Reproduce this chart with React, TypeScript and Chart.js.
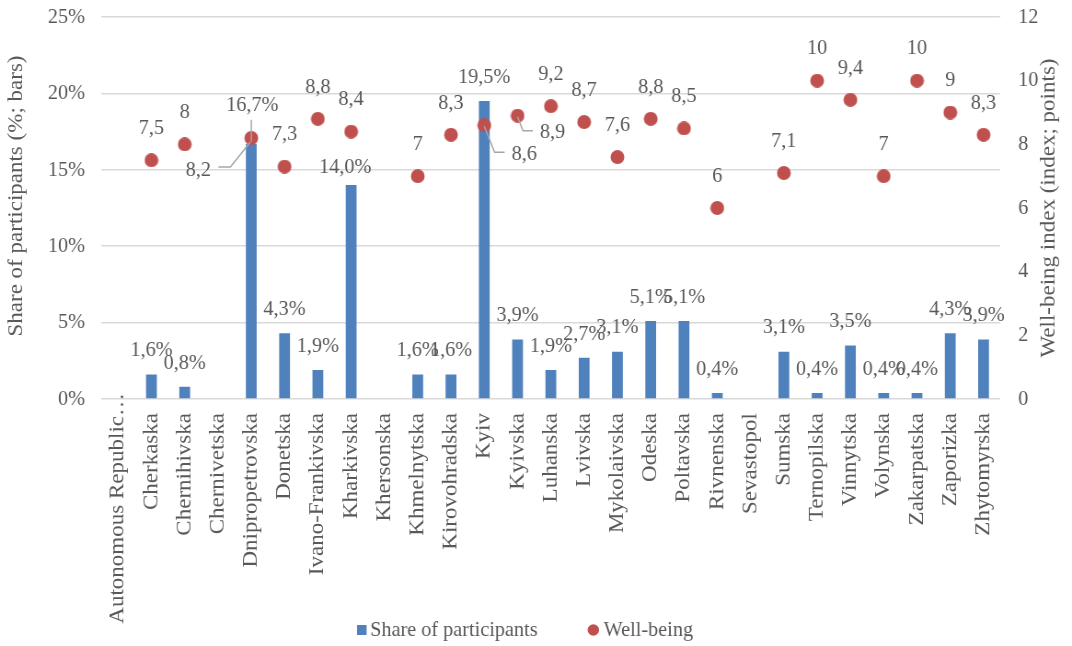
import React, { useEffect, useRef } from 'react';
import { Chart, registerables } from 'chart.js';

Chart.register(...registerables);

// ---------- data ----------
const regions = [
  'Autonomous Republic…', 'Cherkaska', 'Chernihivska', 'Chernivetska', 'Dnipropetrovska',
  'Donetska', 'Ivano-Frankivska', 'Kharkivska', 'Khersonska', 'Khmelnytska',
  'Kirovohradska', 'Kyiv', 'Kyivska', 'Luhanska', 'Lvivska', 'Mykolaivska', 'Odeska',
  'Poltavska', 'Rivnenska', 'Sevastopol', 'Sumska', 'Ternopilska', 'Vinnytska',
  'Volynska', 'Zakarpatska', 'Zaporizka', 'Zhytomyrska',
];

const participantShare: (number | null)[] = [
  null, 1.6, 0.8, null, 16.7, 4.3, 1.9, 14.0, null, 1.6, 1.6, 19.5, 3.9, 1.9, 2.7, 3.1,
  5.1, 5.1, 0.4, null, 3.1, 0.4, 3.5, 0.4, 0.4, 4.3, 3.9,
];

const wellBeing: (number | null)[] = [
  null, 7.5, 8, null, 8.2, 7.3, 8.8, 8.4, null, 7, 8.3, 8.6, 8.9, 9.2, 8.7, 7.6, 8.8,
  8.5, 6, null, 7.1, 10, 9.4, 7, 10, 9, 8.3,
];

const shareTickMax = 25;
const shareTickStep = 5;
const indexTickMax = 12;
const indexTickStep = 2;

const seriesNames = ['Share of participants', 'Well-being'];
const leftTitle = 'Share of participants (%; bars)';
const rightTitle = 'Well-being index (index; points)';

// ---------- styling ----------
const SX = 0.92; // horizontal compression of the rendered text in the reference
const CW = Math.round(1072 / SX);
const CH = 646;
const FONT = "'Liberation Serif', 'Times New Roman', serif";
const TEXT = '#595959';
const BAR = '#4f81bd';
const DOT = '#c0504d';
const GRID = '#d9d9d9';
const LEAD = '#a6a6a6';

const sx = (px: number) => px / SX;
const decimal = (v: number) => String(v).replace('.', ',');

// label nudges (screen px) relative to default placement
const barLabelShift: Record<string, { dx: number; dy: number; lead?: boolean }> = {
  Dnipropetrovska: { dx: 1, dy: -15, lead: true },
  Kharkivska: { dx: -6, dy: 6 },
};
const pointLabelShift: Record<string, { dx: number; dy: number; lead?: 'left' | 'right' }> = {
  Dnipropetrovska: { dx: -53, dy: 64, lead: 'right' },
  Kyiv: { dx: 40, dy: 61, lead: 'left' },
  Kyivska: { dx: 35, dy: 49, lead: 'left' },
};

const labelsPlugin = {
  id: 'valueLabels',
  afterDatasetsDraw(chart: any) {
    const { ctx } = chart;
    ctx.save();
    ctx.font = `22px ${FONT}`;
    ctx.fillStyle = TEXT;
    ctx.textAlign = 'center';
    ctx.textBaseline = 'middle';
    ctx.strokeStyle = LEAD;
    ctx.lineWidth = 1.5;

    chart.getDatasetMeta(0).data.forEach((el: any, i: number) => {
      const v = participantShare[i];
      if (v == null) return;
      const s = barLabelShift[regions[i]];
      const x = el.x + sx(s ? s.dx : 0);
      const y = el.y - 24 + (s ? s.dy : 0);
      if (s && s.lead) {
        ctx.beginPath();
        ctx.moveTo(el.x, y + 15);
        ctx.lineTo(el.x, el.y - 2);
        ctx.stroke();
      }
      ctx.fillText(`${v.toFixed(1).replace('.', ',')}%`, x, y);
    });

    chart.getDatasetMeta(1).data.forEach((el: any, i: number) => {
      const v = wellBeing[i];
      if (v == null) return;
      const s = pointLabelShift[regions[i]];
      const txt = decimal(v);
      const x = el.x + sx(s ? s.dx : 0);
      const y = el.y - 32 + (s ? s.dy : 0);
      if (s && s.lead) {
        const hw = ctx.measureText(txt).width / 2;
        ctx.beginPath();
        if (s.lead === 'right') {
          ctx.moveTo(x + hw + sx(7.5), y - 3);
          ctx.lineTo(x + hw + sx(19.5), y - 3);
          ctx.lineTo(el.x - sx(1), el.y + 4);
        } else {
          ctx.moveTo(el.x, el.y + 1);
          ctx.lineTo(x - hw - sx(17), y - 2);
          ctx.lineTo(x - hw - sx(7), y - 2);
        }
        ctx.stroke();
      }
      ctx.fillText(txt, x, y);
    });
    ctx.restore();
  },
};

const decorPlugin = {
  id: 'decor',
  afterDraw(chart: any) {
    const { ctx, chartArea } = chart;
    ctx.save();
    ctx.fillStyle = TEXT;
    ctx.textBaseline = 'middle';
    ctx.textAlign = 'center';
    ctx.font = `23px ${FONT}`;
    ctx.save();
    ctx.translate(18, 196);
    ctx.rotate(-Math.PI / 2);
    ctx.fillText(leftTitle, 0, 0);
    ctx.restore();
    ctx.save();
    ctx.translate(sx(1049), (chartArea.top + chartArea.bottom) / 2);
    ctx.rotate(-Math.PI / 2);
    ctx.fillText(rightTitle, 0, 0);
    ctx.restore();

    // first category label: the long, truncated one sits higher, like the reference
    const xs = chart.scales.x;
    ctx.save();
    ctx.translate(xs.getPixelForTick(0), chartArea.bottom - 6);
    ctx.rotate(-Math.PI / 2);
    ctx.textAlign = 'right';
    ctx.font = `23px ${FONT}`;
    ctx.fillText(regions[0], 0, 0);
    ctx.restore();

    // legend
    const names = chart.data.datasets.map((d: any) => d.label);
    ctx.font = `22px ${FONT}`;
    ctx.textAlign = 'left';
    const ly = 630;
    let x = sx(357);
    ctx.fillStyle = BAR;
    ctx.fillRect(x, ly - 5, sx(9.5), 10);
    x += sx(13);
    ctx.fillStyle = TEXT;
    ctx.fillText(names[0], x, ly);
    x += ctx.measureText(names[0]).width + sx(50);
    ctx.fillStyle = DOT;
    ctx.beginPath();
    ctx.ellipse(x + sx(5.75), ly, sx(5.75), 5.75, 0, 0, Math.PI * 2);
    ctx.fill();
    x += sx(16);
    ctx.fillStyle = TEXT;
    ctx.fillText(names[1], x, ly);
    ctx.restore();
  },
};

export default function App() {
  const ref = useRef<HTMLCanvasElement | null>(null);

  useEffect(() => {
    if (!ref.current) return;
    const dot = document.createElement('canvas');
    dot.width = 16;
    dot.height = 14;
    const dctx = dot.getContext('2d')!;
    dctx.fillStyle = DOT;
    dctx.beginPath();
    dctx.ellipse(8, 7, 7.5, 7, 0, 0, Math.PI * 2);
    dctx.fill();

    const chart = new Chart(ref.current, {
      data: {
        labels: regions,
        datasets: [
          {
            type: 'bar',
            label: seriesNames[0],
            data: participantShare,
            backgroundColor: BAR,
            yAxisID: 'y',
            barPercentage: 0.5,
            categoryPercentage: 0.65,
            order: 2,
          } as any,
          {
            type: 'line',
            label: seriesNames[1],
            data: wellBeing,
            showLine: false,
            pointStyle: dot,
            pointRadius: 7,
            pointHoverRadius: 7,
            backgroundColor: DOT,
            borderColor: DOT,
            yAxisID: 'y1',
            order: 1,
          } as any,
        ],
      },
      options: {
        responsive: false,
        animation: false,
        devicePixelRatio: 1,
        layout: { padding: { top: 17, bottom: 35, left: 0, right: 0 } },
        plugins: { legend: { display: false }, tooltip: { enabled: false } },
        events: [],
        scales: {
          x: {
            offset: true,
            grid: { display: false, drawTicks: false },
            border: { display: false },
            ticks: {
              autoSkip: false,
              maxRotation: 90,
              minRotation: 90,
              padding: 14,
              color: (c: any) => (c.index === 0 ? 'rgba(0,0,0,0)' : TEXT),
              font: { family: FONT, size: 23 },
            },
            afterFit: (s: any) => {
              s.height = 212;
            },
          },
          y: {
            position: 'left',
            min: 0,
            max: shareTickMax,
            ticks: {
              stepSize: shareTickStep,
              padding: 17.9,
              color: TEXT,
              font: { family: FONT, size: 22 },
              callback: (v: any) => `${v}%`,
            },
            grid: { color: GRID, lineWidth: 1.5, drawTicks: false },
            border: { display: false },
            afterFit: (s: any) => {
              s.width = 110.3;
              s.paddingTop = 0;
              s.paddingBottom = 0;
            },
          },
          y1: {
            position: 'right',
            min: 0,
            max: indexTickMax,
            ticks: {
              stepSize: indexTickStep,
              padding: 19.5,
              color: TEXT,
              font: { family: FONT, size: 22 },
            },
            grid: { display: false, drawTicks: false },
            border: { display: false },
            afterFit: (s: any) => {
              s.width = CW - sx(1000);
              s.paddingTop = 0;
              s.paddingBottom = 0;
            },
          },
        },
      } as any,
      plugins: [labelsPlugin, decorPlugin],
    });
    return () => chart.destroy();
  }, []);

  return (
    <div style={{ position: 'fixed', left: 0, top: 0, width: 1072, height: 646, background: '#fff' }}>
      <canvas
        ref={ref}
        width={CW}
        height={CH}
        style={{ width: '1072px', height: '646px', display: 'block' }}
      />
    </div>
  );
}
